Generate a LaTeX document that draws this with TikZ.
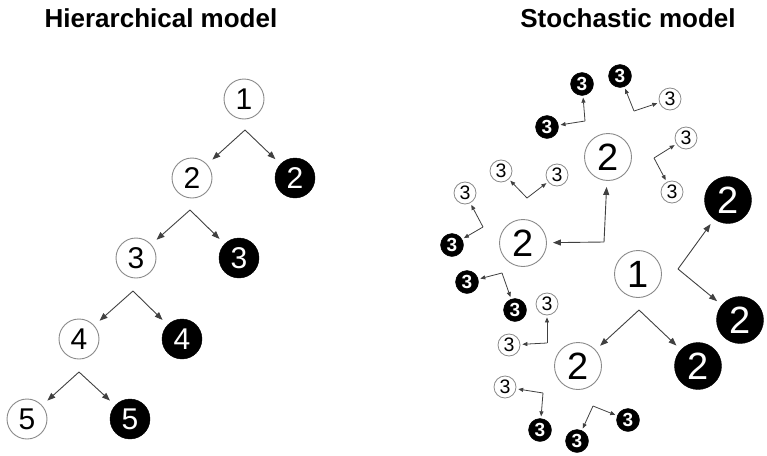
\documentclass[tikz,border=0pt]{standalone}
\usepackage{fontspec}
\setmainfont{Liberation Sans}
\usetikzlibrary{arrows.meta,calc}
\definecolor{rim}{HTML}{8A8A8A}
\definecolor{lne}{HTML}{404040}
\tikzset{
  wl/.style={circle,draw=rim,line width=0.9pt,fill=white,minimum size=40pt,inner sep=0pt,font=\fontsize{30}{30}\selectfont},
  bl/.style={circle,draw=black,fill=black,text=white,minimum size=40pt,inner sep=0pt,font=\fontsize{30}{30}\selectfont},
  wb/.style={circle,draw=rim,line width=0.9pt,fill=white,minimum size=47pt,inner sep=0pt,font=\fontsize{38}{38}\selectfont},
  bb/.style={circle,draw=black,fill=black,text=white,minimum size=47pt,inner sep=0pt,font=\fontsize{38}{38}\selectfont},
  ws/.style={circle,draw=rim,line width=0.8pt,fill=white,minimum size=22pt,inner sep=0pt,font=\fontsize{19.5}{19.5}\selectfont},
  bs/.style={circle,draw=black,fill=black,text=white,minimum size=23pt,inner sep=0pt,font=\bfseries\fontsize{19}{19}\selectfont},
  arl/.style={draw=lne,line width=0.9pt,-{Triangle[length=8pt,width=6pt]},shorten >=7pt},
  arb/.style={draw=lne,line width=0.9pt,-{Triangle[length=8pt,width=6pt]},shorten >=6pt},
  ars/.style={draw=lne,line width=0.8pt,-{Triangle[length=5pt,width=4pt]},shorten >=2pt},
  ttl/.style={font=\bfseries\fontsize{26}{26}\selectfont}
}
\begin{document}
\begin{tikzpicture}[x=1pt,y=-1pt]
\useasboundingbox (0,0) rectangle (767,455);
% titles
\node[ttl] (t1) at (161,18) {Hierarchical model};
\node[ttl] (t2) at (628,18) {Stochastic model};
% hierarchical tree
\node[wl] (l1) at (244,99) {1};
\node[wl] (l2w) at (192,178) {2};
\node[bl] (l2b) at (295,178) {2};
\node[wl] (l3w) at (136,258) {3};
\node[bl] (l3b) at (239,258) {3};
\node[wl] (l4w) at (79,339) {4};
\node[bl] (l4b) at (182,339) {4};
\node[wl] (l5w) at (27,419) {5};
\node[bl] (l5b) at (130,419) {5};
\coordinate (k1) at (245,130);
\coordinate (k2) at (190,210);
\coordinate (k3) at (133,291);
\coordinate (k4) at (79,372);
\draw[arl] (k1) -- (l2w); \draw[arl] (k1) -- (l2b);
\draw[arl] (k2) -- (l3w); \draw[arl] (k2) -- (l3b);
\draw[arl] (k3) -- (l4w); \draw[arl] (k3) -- (l4b);
\draw[arl] (k4) -- (l5w); \draw[arl] (k4) -- (l5b);
% stochastic model: big nodes
\node[wb] (r1) at (638,274) {1};
\node[wb] (rA) at (608,157) {2};
\node[wb] (rB) at (523,243) {2};
\node[bb] (rC) at (728,200) {2};
\node[bb] (rD) at (740,320) {2};
\node[wb] (rE) at (578,366) {2};
\node[bb] (rF) at (698,366) {2};
% small nodes
\node[bs] (a1) at (582,84) {3};
\node[bs] (a2) at (547,127) {3};
\node[bs] (b1) at (620,76) {3};
\node[ws] (b2) at (670,99) {3};
\node[ws] (d1) at (686,138) {3};
\node[ws] (d2) at (672,192) {3};
\node[ws] (e1) at (501,171) {3};
\node[ws] (e2) at (557,175) {3};
\node[ws] (f1) at (465,193) {3};
\node[bs] (f2) at (452,245) {3};
\node[bs] (g1) at (467,282) {3};
\node[bs] (g2) at (515,310) {3};
\node[ws] (h1) at (547,304) {3};
\node[ws] (h2) at (509,345) {3};
\node[ws] (i1) at (505,387) {3};
\node[bs] (i2) at (540,430) {3};
\node[bs] (j1) at (628,420) {3};
\node[bs] (j2) at (577,441) {3};
% corners
\coordinate (c1) at (585,121);
\coordinate (c2) at (634,111);
\coordinate (c3) at (654,158);
\coordinate (c4) at (527,198);
\coordinate (c5) at (483,227);
\coordinate (c6) at (604,242);
\coordinate (c7) at (678,269);
\coordinate (c8) at (639,310);
\coordinate (c9) at (502,273);
\coordinate (c10) at (547,343);
\coordinate (c11) at (543,393);
\coordinate (c12) at (593,406);
\draw[ars] (c1) -- (a1); \draw[ars] (c1) -- (a2);
\draw[ars] (c2) -- (b1); \draw[ars] (c2) -- (b2);
\draw[ars] (c3) -- (d1); \draw[ars] (c3) -- (d2);
\draw[ars] (c4) -- (e1); \draw[ars] (c4) -- (e2);
\draw[ars] (c5) -- (f1); \draw[ars] (c5) -- (f2);
\draw[arb] (c6) -- (rA); \draw[arb] (c6) -- (rB);
\draw[arb] (c7) -- (rC); \draw[arb] (c7) -- (rD);
\draw[arb] (c8) -- (rE); \draw[arb] (c8) -- (rF);
\draw[ars] (c9) -- (g1); \draw[ars] (c9) -- (g2);
\draw[ars] (c10) -- (h1); \draw[ars] (c10) -- (h2);
\draw[ars] (c11) -- (i1); \draw[ars] (c11) -- (i2);
\draw[ars] (c12) -- (j1); \draw[ars] (c12) -- (j2);
\end{tikzpicture}
\end{document}
